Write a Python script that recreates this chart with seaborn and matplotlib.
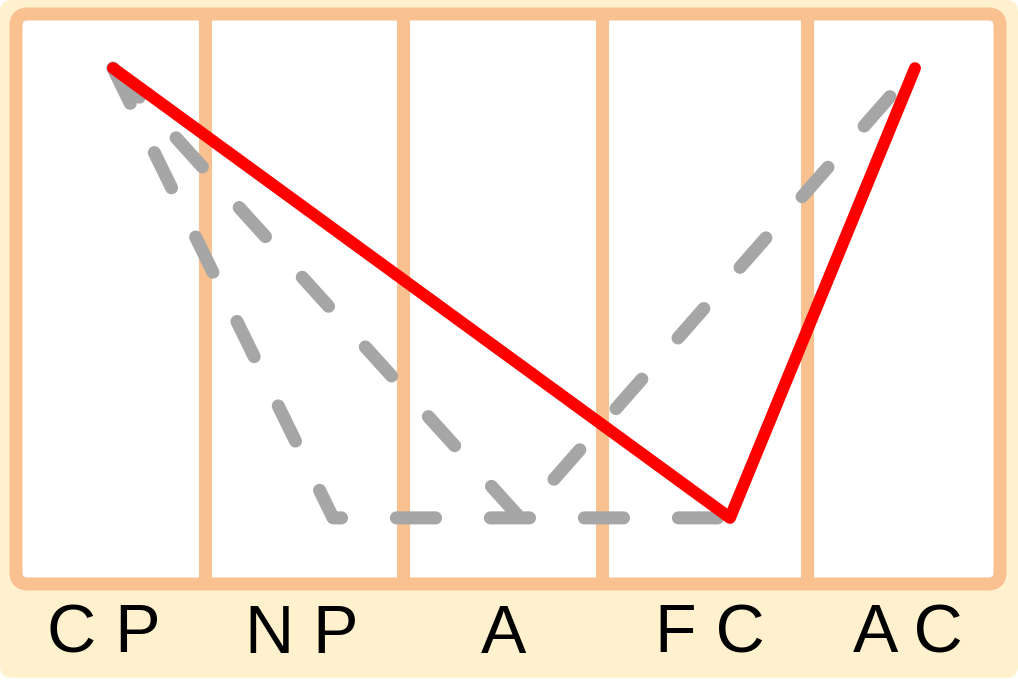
import matplotlib
matplotlib.use("Agg")
import matplotlib.pyplot as plt
from matplotlib.patches import FancyBboxPatch
import seaborn as sns

# stage labels and where they sit (x in column units, 0..5)
stages = ["C P", "N P", "A", "F C", "A C"]
label_x = [0.445, 1.451, 2.475, 3.524, 4.530]
dividers = [0.960, 1.969, 2.978, 4.019]

# paths (y is relative level, 0 = bottom, 1 = top)
red_x = [0.493, 3.628, 4.568]
red_y = [0.905, 0.116, 0.905]
gray1_x = [0.493, 1.611, 3.628]
gray1_y = [0.905, 0.116, 0.116]
gray2_x = [0.493, 2.561, 4.568]
gray2_y = [0.905, 0.116, 0.905]

cream = "#FFF1CD"
peach = "#F9C190"
gray = "#A6A6A6"

sns.set_style("white")
plt.rcParams["font.family"] = ["Liberation Sans", "DejaVu Sans"]

W, H = 1018, 685
fig = plt.figure(figsize=(W / 100, H / 100), dpi=100)
fig.patch.set_facecolor("white")

# cream background card
bg = FancyBboxPatch((0, 7 / H), 1, 678 / H,
                    boxstyle="round,pad=0,rounding_size=%f" % (12 / W),
                    mutation_aspect=W / H, transform=fig.transFigure,
                    facecolor=cream, edgecolor="none", zorder=-5)
fig.patches.append(bg)

ax = fig.add_axes([16 / W, 101 / H, 984 / W, 570 / H])
ax.set_zorder(2)
ax.set_xlim(0, 5)
ax.set_ylim(0, 1)
ax.axis("off")

# white panel with peach frame
panel = FancyBboxPatch((0, 0), 5, 1,
                       boxstyle="round,pad=0,rounding_size=0.06",
                       mutation_aspect=196.8 / 570,
                       facecolor="white", edgecolor=peach, linewidth=9.4,
                       clip_on=False, zorder=1)
ax.add_patch(panel)
ax.vlines(dividers, 0, 1, color=peach, linewidth=9.4, zorder=2)

dash = (0, (3, 4.2))
for gx, gy in [(gray1_x, gray1_y), (gray2_x, gray2_y)]:
    sns.lineplot(x=gx, y=gy, sort=False, estimator=None, ax=ax, color=gray,
                 linewidth=9.4, linestyle=dash, dash_capstyle="round",
                 dash_joinstyle="round", clip_on=False, zorder=3)

sns.lineplot(x=red_x, y=red_y, sort=False, estimator=None, ax=ax, color="red",
             linewidth=8.6, solid_capstyle="round", solid_joinstyle="round",
             clip_on=False, zorder=4)

for x, lab in zip(label_x, stages):
    ax.text(x, -0.121, lab, ha="center", va="baseline", fontsize=49,
            color="black", clip_on=False)

fig.savefig("out.png", dpi=100)
